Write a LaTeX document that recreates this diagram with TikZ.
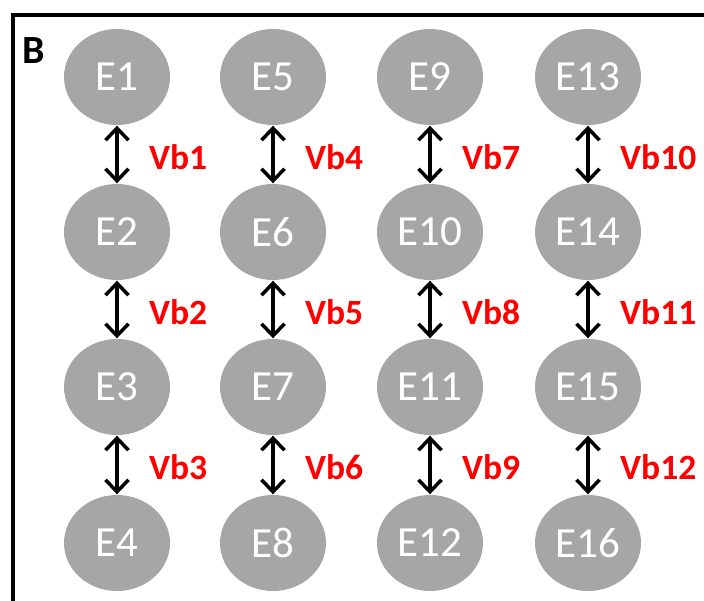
\documentclass[tikz,border=0pt]{standalone}
\usepackage{fontspec}
\setmainfont{Carlito}
\usetikzlibrary{arrows.meta,shapes.geometric}
\definecolor{egray}{HTML}{A6A6A6}
\definecolor{vred}{HTML}{FF0000}
\tikzset{
  enode/.style={ellipse, fill=egray, minimum width=106pt, minimum height=96pt, inner sep=0pt,
    text=white, font=\fontsize{43}{43}\selectfont},
  vlabel/.style={anchor=west, inner sep=0pt, text=vred, font=\fontsize{35.5}{35.5}\selectfont\bfseries},
  darrow/.style={line width=3.5pt, {Straight Barb[length=12pt,width=23pt,line width=3.5pt]}-{Straight Barb[length=12pt,width=23pt,line width=3.5pt]}, shorten <=0.5pt, shorten >=0.5pt},
}
\begin{document}
\begin{tikzpicture}[x=1pt,y=-1pt]
\useasboundingbox (0,0) rectangle (704,601);
\draw[line width=3.5pt] (13,601) -- (13,15) -- (704,15);
\node[anchor=west, inner sep=0pt, font=\fontsize{40}{40}\selectfont\bfseries] (B) at (22,51) {B};
\foreach \c/\x in {0/117,1/273,2/430,3/588}{
  \foreach \r/\y in {1/77,2/232,3/387,4/543}{
    \pgfmathtruncatemacro{\n}{\c*4+\r}
    \node[enode] (E\n) at (\x,\y) {E\n};
  }
}
\foreach \c/\x in {0/117,1/273,2/430,3/588}{
  \foreach \r/\y in {1/157,2/312,3/467}{
    \pgfmathtruncatemacro{\a}{\c*4+\r}
    \pgfmathtruncatemacro{\b}{\c*4+\r+1}
    \pgfmathtruncatemacro{\v}{\c*3+\r}
    \draw[darrow] (E\a.south) -- (E\b.north);
    \node[vlabel] (V\v) at (\x+32,\y) {Vb\v};
  }
}
\end{tikzpicture}
\end{document}
